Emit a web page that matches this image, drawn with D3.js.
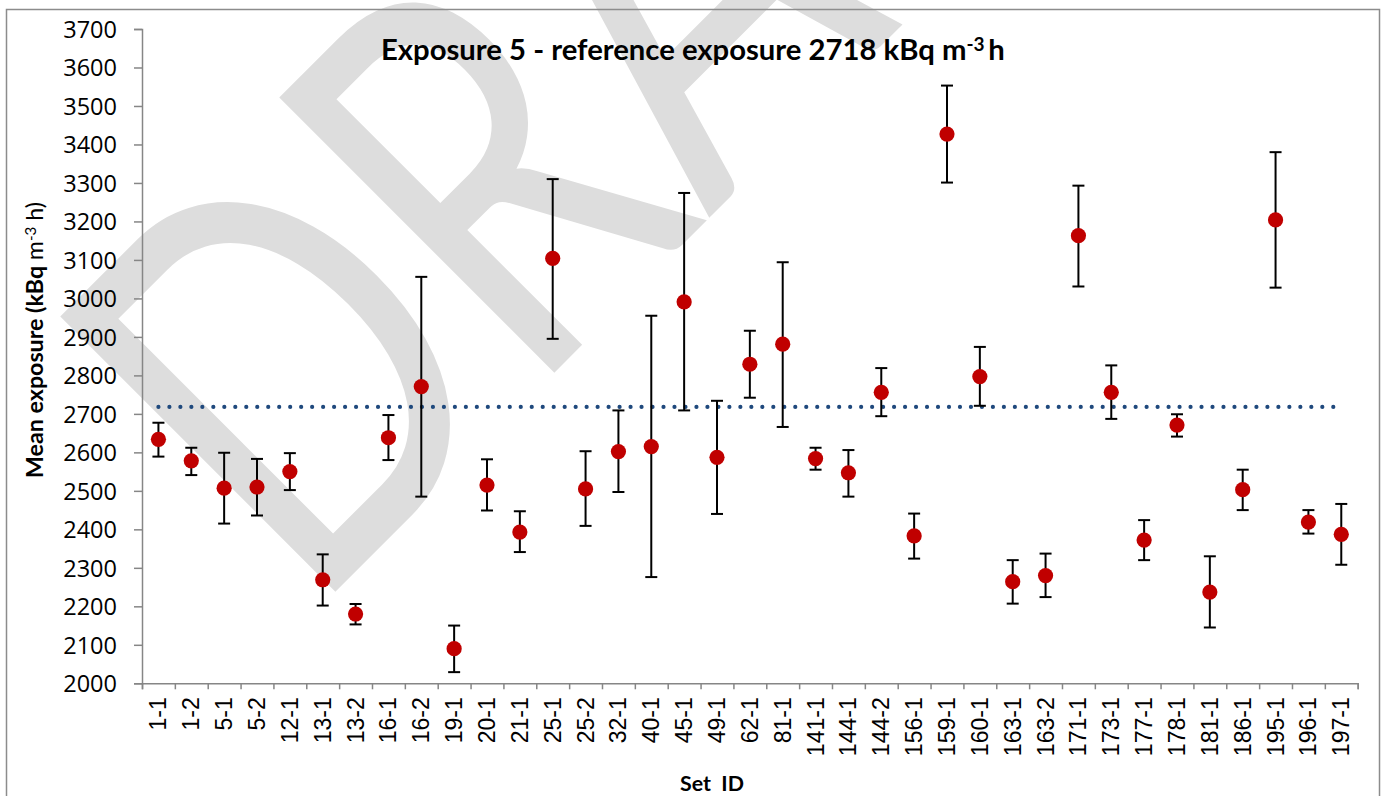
<!DOCTYPE html>
<html>
<head>
<meta charset="utf-8">
<script src="https://cdn.jsdelivr.net/npm/d3@7"></script>
<style>
  body { margin: 0; background: #fff; }
  svg { display: block; }
</style>
</head>
<body>
<div id="chart"></div>
<script>
// Values
const setIds = ['1-1', '1-2', '5-1', '5-2', '12-1', '13-1', '13-2', '16-1', '16-2', '19-1',
  '20-1', '21-1', '25-1', '25-2', '32-1', '40-1', '45-1', '49-1', '62-1', '81-1',
  '141-1', '144-1', '144-2', '156-1', '159-1', '160-1', '163-1', '163-2', '171-1', '173-1',
  '177-1', '178-1', '181-1', '186-1', '195-1', '196-1', '197-1'];
const meanExposure = [2634, 2578, 2507, 2510, 2550, 2269, 2180, 2638, 2771, 2090,
  2515, 2393, 3104, 2505, 2602, 2615, 2991, 2587, 2829, 2881,
  2584, 2547, 2756, 2383, 3427, 2797, 2264, 2280, 3163, 2756,
  2372, 2671, 2237, 2503, 3204, 2419, 2387];
const errorLow = [2589, 2541, 2415, 2436, 2502, 2202, 2153, 2580, 2485, 2029,
  2449, 2341, 2895, 2409, 2497, 2276, 2709, 2440, 2742, 2666,
  2555, 2485, 2694, 2324, 3301, 2721, 2207, 2224, 3031, 2687,
  2320, 2641, 2145, 2450, 3028, 2389, 2308];
const errorHigh = [2677, 2612, 2599, 2583, 2598, 2335, 2206, 2697, 3056, 2150,
  2582, 2447, 3310, 2603, 2709, 2955, 3274, 2734, 2916, 3094,
  2612, 2606, 2819, 2441, 3553, 2874, 2320, 2337, 3293, 2826,
  2424, 2699, 2330, 2555, 3380, 2450, 2466];
const referenceExposure = 2718;
const yTicks = [2000, 2100, 2200, 2300, 2400, 2500, 2600, 2700, 2800, 2900,
  3000, 3100, 3200, 3300, 3400, 3500, 3600, 3700];

const width = 1381, height = 796;
const plot = { left: 142, right: 1357.7, top: 29, bottom: 683.3 };
const axisGrey = '#868686';

const svg = d3.select('#chart').append('svg')
  .attr('width', width)
  .attr('height', height);

// DRAFT watermark, sits behind everything
svg.append('text')
  .attr('transform', 'translate(309,618) rotate(-45) scale(0.75,1)')
  .style('font-family', 'Lato')
  .style('font-size', '543px')
  .style('fill', '#dddddd')
  .text('DRAFT');

// outer chart frame
svg.append('rect')
  .attr('x', 6.5).attr('y', 9.5)
  .attr('width', 1373).attr('height', 820)
  .style('fill', 'none')
  .style('stroke', '#8c8c8c')
  .style('stroke-width', 1.5);

const x = d3.scaleBand()
  .domain(setIds)
  .range([plot.left, plot.right])
  .padding(0);
const xEdges = d3.scaleLinear()
  .domain([0, setIds.length])
  .range([plot.left, plot.right]);
const y = d3.scaleLinear()
  .domain([2000, 3700])
  .range([plot.bottom, plot.top]);
const cx = function(id) { return x(id) + x.bandwidth() / 2; };

// y axis
const yAxis = svg.append('g')
  .attr('transform', `translate(${plot.left},0)`)
  .call(d3.axisLeft(y).tickValues(yTicks).tickSize(8).tickPadding(17).tickFormat(d3.format('d')));
yAxis.selectAll('text')
  .attr('dy', '0.36em')
  .style('font-family', '"Open Sans"')
  .style('font-size', '23.5px')
  .style('fill', '#000');

// x axis: tick marks on category edges, labels on category centres
const xTicks = svg.append('g')
  .attr('transform', `translate(0,${plot.bottom})`)
  .call(d3.axisBottom(xEdges).tickValues(d3.range(setIds.length + 1)).tickSize(6).tickFormat(''));
const xLabels = svg.append('g')
  .attr('transform', `translate(0,${plot.bottom})`)
  .call(d3.axisBottom(x).tickSize(0));
xLabels.select('.domain').remove();
xLabels.selectAll('text')
  .attr('transform', 'rotate(-90)')
  .attr('x', -14)
  .attr('y', 0)
  .attr('dy', '0.35em')
  .attr('text-anchor', 'end')
  .style('font-family', '"Liberation Sans", Arial')
  .style('font-size', '23px')
  .style('fill', '#000');

[yAxis, xTicks].forEach(function(g) {
  g.selectAll('.domain, line')
    .style('stroke', axisGrey)
    .style('stroke-width', 1.5);
});

// reference exposure, dotted line across the categories
svg.append('path')
  .datum(setIds)
  .attr('d', d3.line().x(function(d) { return cx(d); }).y(function() { return y(referenceExposure); }))
  .style('fill', 'none')
  .style('stroke', '#1f497d')
  .style('stroke-width', 4.2)
  .style('stroke-linecap', 'round')
  .style('stroke-dasharray', '0 10.98');

// error bars
const bars = svg.append('g').selectAll('g')
  .data(setIds)
  .enter().append('g')
  .style('stroke', '#000')
  .style('stroke-width', 2);
bars.append('line')
  .attr('x1', function(d) { return cx(d); })
  .attr('x2', function(d) { return cx(d); })
  .attr('y1', function(d, i) { return y(errorLow[i]); })
  .attr('y2', function(d, i) { return y(errorHigh[i]); });
bars.append('line')
  .attr('x1', function(d) { return cx(d) - 6; })
  .attr('x2', function(d) { return cx(d) + 6; })
  .attr('y1', function(d, i) { return y(errorHigh[i]); })
  .attr('y2', function(d, i) { return y(errorHigh[i]); });
bars.append('line')
  .attr('x1', function(d) { return cx(d) - 6; })
  .attr('x2', function(d) { return cx(d) + 6; })
  .attr('y1', function(d, i) { return y(errorLow[i]); })
  .attr('y2', function(d, i) { return y(errorLow[i]); });

// mean exposure markers
svg.append('g').selectAll('circle')
  .data(setIds)
  .enter().append('circle')
  .attr('cx', function(d) { return cx(d); })
  .attr('cy', function(d, i) { return y(meanExposure[i]); })
  .attr('r', 7.6)
  .style('fill', '#c00000');

// scale a text's font size so that it spans the given width
function fitWidth(sel, target) {
  const size = parseFloat(sel.style('font-size'));
  const len = sel.node().getComputedTextLength();
  sel.style('font-size', (size * target / len) + 'px');
}

// title
const title = svg.append('text')
  .attr('x', 381).attr('y', 60)
  .style('font-family', 'Lato')
  .style('font-weight', 'bold')
  .style('font-size', '26px');
title.append('tspan').text('Exposure 5 - reference exposure 2718 kBq m');
title.append('tspan').attr('baseline-shift', '45%').style('font-size', '65%').text('-3');
title.append('tspan').text('\u2009h');
fitWidth(title, 624);

// y axis title
const yTitle = svg.append('text')
  .attr('transform', 'translate(42.7,340) rotate(-90)')
  .attr('text-anchor', 'middle')
  .style('font-family', 'Lato')
  .style('font-weight', 'bold')
  .style('font-size', '22px');
yTitle.append('tspan').text('Mean exposure (kBq ');
yTitle.append('tspan').style('font-weight', 'normal').text('m');
yTitle.append('tspan').attr('baseline-shift', '45%').style('font-size', '65%').style('font-weight', 'normal').text('-3');
yTitle.append('tspan').style('font-weight', 'normal').text(' h)');
fitWidth(yTitle, 276);

// x axis title
const xTitle = svg.append('text')
  .attr('x', 712).attr('y', 791)
  .attr('text-anchor', 'middle')
  .style('font-family', 'Lato')
  .style('font-weight', 'bold')
  .style('font-size', '21px')
  .style('white-space', 'pre')
  .text('Set  ID');
fitWidth(xTitle, 64);
</script>
</body>
</html>
